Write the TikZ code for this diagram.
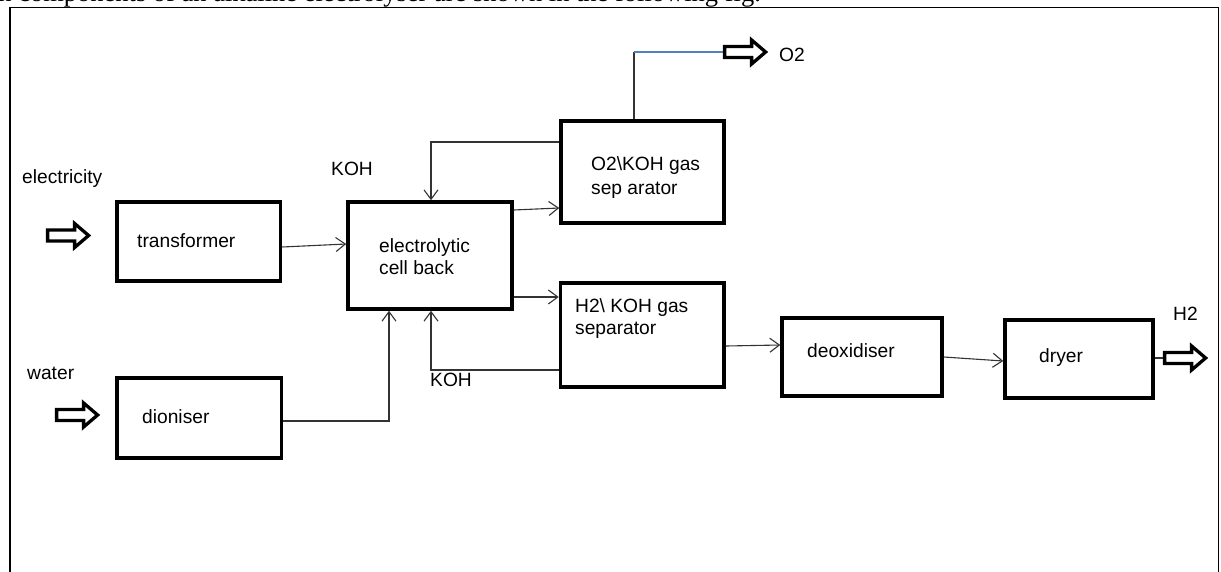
\documentclass[tikz,border=0pt]{standalone}
\usepackage{fontspec}
\setmainfont{Liberation Sans}
\newfontfamily\capfont{Liberation Serif}
\usetikzlibrary{arrows.meta,calc}
\definecolor{linkblue}{RGB}{79,129,189}
\tikzset{
  box/.style={draw=black, line width=3.5pt, rectangle, inner sep=0pt, fill=white},
  lbl/.style={inner sep=0pt, anchor=base west, font=\fontsize{19.2}{22}\selectfont, text=black},
  conn/.style={draw=black!80, line width=1.1pt, -{Straight Barb[length=9.5pt,width=14pt,line width=1.1pt]}},
  plainline/.style={draw=black!80, line width=1.1pt},
  blockarrow/.style={draw=black, line width=3.3pt, fill=white, line join=miter},
}
\newcommand{\barrow}[3]{% name, x (outer left), y (centre)
  \coordinate (#1) at (#2,#3);
  \draw[blockarrow] ($(#1)+(1.6,-5.5)$) -- ++(27,0) -- ++(0,-6.5) -- ++(14,12) -- ++(-14,12) -- ++(0,-6.5) -- ++(-27,0) -- cycle;
}
\begin{document}
\begin{tikzpicture}[x=1pt,y=-1pt]
\useasboundingbox (0,0) rectangle (1221,571);
\begin{scope}
\clip (0,0) rectangle (1221,571);
\fill[white] (0,0) rectangle (1221,571);
% caption (cut at the top edge, as in the source)
\node[inner sep=0pt, anchor=base east, font=\capfont\fontsize{26.5}{30}\selectfont] (caption) at (761,1) {n components of an alkaline electrolyser are shown in the following fig.};
% outer frame
\draw[line width=1.5pt] (10,590) -- (10,7.5) -- (1218.5,7.5) -- (1218.5,590);

% boxes
\node[box, minimum width=163.5pt, minimum height=79pt] (tr) at (198.75,241.5) {};
\node[box, minimum width=164.5pt, minimum height=80pt] (di) at (199.25,418) {};
\node[box, minimum width=164pt, minimum height=107pt] (cell) at (430,255.5) {};
\node[box, minimum width=163pt, minimum height=102pt] (o2s) at (642.5,172) {};
\node[box, minimum width=163.5pt, minimum height=104pt] (h2s) at (642.25,335) {};
\node[box, minimum width=160pt, minimum height=78pt] (deox) at (862,357) {};
\node[box, minimum width=148pt, minimum height=78pt] (dry) at (1079,359) {};

% box texts
\node[lbl] (trT) at (137,247) {transformer};
\node[lbl] (diT) at (142,423) {dioniser};
\node[lbl] (cellT1) at (379,252) {electrolytic};
\node[lbl] (cellT2) at (379,274) {cell back};
\node[lbl] (o2sT1) at (591,170) {O2\textbackslash KOH gas};
\node[lbl] (o2sT2) at (591,194) {sep arator};
\node[lbl] (h2sT1) at (575,312) {H2\textbackslash{} KOH gas};
\node[lbl] (h2sT2) at (575,334) {separator};
\node[lbl] (deoxT) at (807,357) {deoxidiser};
\node[lbl] (dryT) at (1039,362) {dryer};

% free labels
\node[lbl] (elec) at (22,183) {electricity};
\node[lbl] (water) at (27,379) {water};
\node[lbl] (kohTop) at (331,175) {KOH};
\node[lbl] (kohBot) at (430,386) {KOH};
\node[lbl] (o2L) at (779,61) {O2};
\node[lbl] (h2L) at (1173,320) {H2};

% block arrows
\barrow{elecA}{46}{235.5}
\barrow{waterA}{55}{415}
\barrow{o2A}{723}{52}
\barrow{h2A}{1163}{358}

% connectors
\draw[conn] ($(tr.east)+(0,5.5)$) -- ($(cell.west)+(0,-11.5)$);
\draw[conn] ($(cell.east)+(0,-45.5)$) -- ($(o2s.west)+(0,36)$);
\draw[conn] ($(cell.east)+(0,41.5)$) -- ($(h2s.west)+(0,-38)$);
\draw[conn] ($(o2s.west)+(0,-30)$) -| ($(cell.north)+(1,0)$);
\draw[conn] ($(h2s.west)+(0,35)$) -| ($(cell.south)+(1,0)$);
\draw[conn] ($(di.east)+(0,3)$) -| ($(cell.south)+(-41,0)$);
\draw[conn] ($(h2s.east)+(0,11)$) -- ($(deox.west)+(0,-12)$);
\draw[conn] (deox.east) -- ($(dry.west)+(0,2)$);
\draw[plainline] ($(dry.east)+(0,-1)$) -- (h2A);
\coordinate (o2up) at ($(o2s.north)+(-8.5,0)$);
\draw[plainline] (o2up) -- (o2up |- o2A);
\draw[draw=linkblue, line width=1.1pt] (o2up |- o2A) -- (o2A);
\end{scope}
\end{tikzpicture}
\end{document}
